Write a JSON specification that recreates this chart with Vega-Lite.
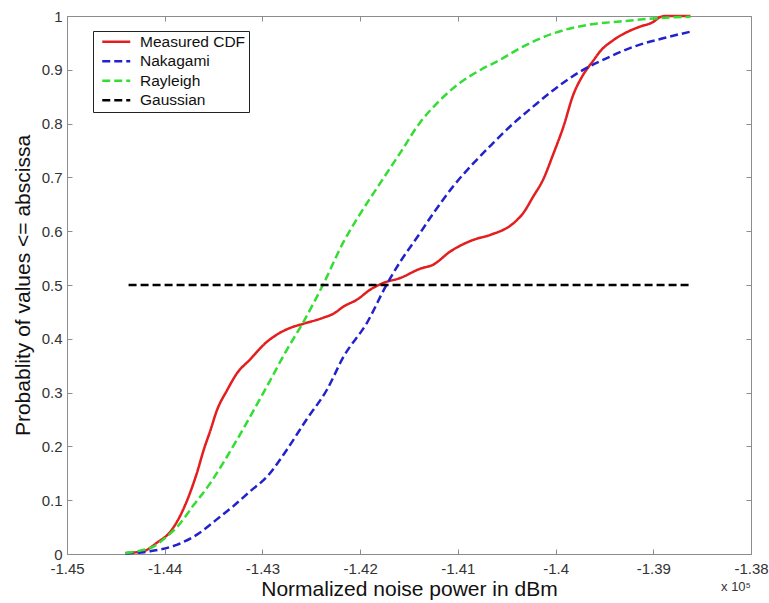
{
  "$schema": "https://vega.github.io/schema/vega-lite/v6.json",
  "width": 684,
  "height": 538,
  "autosize": "none",
  "padding": {"left": 67, "top": 16, "right": 18, "bottom": 49},
  "background": "white",
  "config": {
    "font": "Liberation Sans",
    "view": {"stroke": "#8c8c8c", "strokeWidth": 1},
    "axis": {
      "domain": false,
      "grid": false,
      "tickColor": "#8c8c8c",
      "tickSize": -5,
      "tickWidth": 1,
      "labelColor": "#333333",
      "labelFont": "Liberation Sans",
      "labelFontSize": 15,
      "titleFont": "Liberation Sans",
      "titleFontSize": 21,
      "titleFontWeight": "normal",
      "titleColor": "#111111"
    },
    "legend": {
      "orient": "none",
      "legendX": 26,
      "legendY": 15,
      "fillColor": "white",
      "strokeColor": "#222222",
      "padding": 3,
      "labelFont": "Liberation Sans",
      "labelFontSize": 15.5,
      "labelColor": "#111111",
      "symbolType": "M-2.333,0H2.333",
      "symbolSize": 144,
      "symbolStrokeWidth": 2.5,
      "symbolOffset": 12.5,
      "labelOffset": 16,
      "rowPadding": 2.5
    }
  },
  "title": {
    "text": "x 10⁵",
    "orient": "bottom",
    "anchor": "end",
    "frame": "group",
    "fontSize": 13,
    "fontWeight": "normal",
    "color": "#333333",
    "offset": -18
  },
  "data": {
    "values": [
      {"s": "Measured CDF", "x": -1.4440, "y": 0.002},
      {"s": "Measured CDF", "x": -1.4422, "y": 0.005},
      {"s": "Measured CDF", "x": -1.4408, "y": 0.021},
      {"s": "Measured CDF", "x": -1.4394, "y": 0.042},
      {"s": "Measured CDF", "x": -1.4381, "y": 0.083},
      {"s": "Measured CDF", "x": -1.4374, "y": 0.114},
      {"s": "Measured CDF", "x": -1.4367, "y": 0.151},
      {"s": "Measured CDF", "x": -1.4360, "y": 0.194},
      {"s": "Measured CDF", "x": -1.4353, "y": 0.231},
      {"s": "Measured CDF", "x": -1.4347, "y": 0.265},
      {"s": "Measured CDF", "x": -1.4336, "y": 0.305},
      {"s": "Measured CDF", "x": -1.4326, "y": 0.336},
      {"s": "Measured CDF", "x": -1.4313, "y": 0.361},
      {"s": "Measured CDF", "x": -1.4295, "y": 0.395},
      {"s": "Measured CDF", "x": -1.4285, "y": 0.408},
      {"s": "Measured CDF", "x": -1.4272, "y": 0.420},
      {"s": "Measured CDF", "x": -1.4258, "y": 0.428},
      {"s": "Measured CDF", "x": -1.4238, "y": 0.439},
      {"s": "Measured CDF", "x": -1.4227, "y": 0.447},
      {"s": "Measured CDF", "x": -1.4217, "y": 0.460},
      {"s": "Measured CDF", "x": -1.4203, "y": 0.473},
      {"s": "Measured CDF", "x": -1.4190, "y": 0.491},
      {"s": "Measured CDF", "x": -1.4176, "y": 0.504},
      {"s": "Measured CDF", "x": -1.4159, "y": 0.513},
      {"s": "Measured CDF", "x": -1.4139, "y": 0.530},
      {"s": "Measured CDF", "x": -1.4125, "y": 0.538},
      {"s": "Measured CDF", "x": -1.4108, "y": 0.562},
      {"s": "Measured CDF", "x": -1.4084, "y": 0.584},
      {"s": "Measured CDF", "x": -1.4067, "y": 0.593},
      {"s": "Measured CDF", "x": -1.4043, "y": 0.615},
      {"s": "Measured CDF", "x": -1.4033, "y": 0.634},
      {"s": "Measured CDF", "x": -1.4023, "y": 0.664},
      {"s": "Measured CDF", "x": -1.4013, "y": 0.695},
      {"s": "Measured CDF", "x": -1.4002, "y": 0.745},
      {"s": "Measured CDF", "x": -1.3992, "y": 0.794},
      {"s": "Measured CDF", "x": -1.3982, "y": 0.853},
      {"s": "Measured CDF", "x": -1.3972, "y": 0.890},
      {"s": "Measured CDF", "x": -1.3961, "y": 0.918},
      {"s": "Measured CDF", "x": -1.3955, "y": 0.933},
      {"s": "Measured CDF", "x": -1.3941, "y": 0.955},
      {"s": "Measured CDF", "x": -1.3927, "y": 0.970},
      {"s": "Measured CDF", "x": -1.3914, "y": 0.980},
      {"s": "Measured CDF", "x": -1.3900, "y": 0.989},
      {"s": "Measured CDF", "x": -1.3893, "y": 0.998},
      {"s": "Measured CDF", "x": -1.3888, "y": 1.0},
      {"s": "Measured CDF", "x": -1.3862, "y": 1.0},
      {"s": "Nakagami", "x": -1.4440, "y": 0.0011},
      {"s": "Nakagami", "x": -1.4415, "y": 0.0050},
      {"s": "Nakagami", "x": -1.4387, "y": 0.0175},
      {"s": "Nakagami", "x": -1.4367, "y": 0.0360},
      {"s": "Nakagami", "x": -1.4347, "y": 0.0639},
      {"s": "Nakagami", "x": -1.4330, "y": 0.0886},
      {"s": "Nakagami", "x": -1.4313, "y": 0.1159},
      {"s": "Nakagami", "x": -1.4295, "y": 0.1443},
      {"s": "Nakagami", "x": -1.4275, "y": 0.1939},
      {"s": "Nakagami", "x": -1.4255, "y": 0.2496},
      {"s": "Nakagami", "x": -1.4234, "y": 0.3053},
      {"s": "Nakagami", "x": -1.4217, "y": 0.3666},
      {"s": "Nakagami", "x": -1.4193, "y": 0.4298},
      {"s": "Nakagami", "x": -1.4173, "y": 0.5004},
      {"s": "Nakagami", "x": -1.4159, "y": 0.5431},
      {"s": "Nakagami", "x": -1.4142, "y": 0.5877},
      {"s": "Nakagami", "x": -1.4125, "y": 0.6335},
      {"s": "Nakagami", "x": -1.4105, "y": 0.6829},
      {"s": "Nakagami", "x": -1.4084, "y": 0.7264},
      {"s": "Nakagami", "x": -1.4064, "y": 0.7636},
      {"s": "Nakagami", "x": -1.4043, "y": 0.8007},
      {"s": "Nakagami", "x": -1.4023, "y": 0.8315},
      {"s": "Nakagami", "x": -1.4002, "y": 0.8626},
      {"s": "Nakagami", "x": -1.3975, "y": 0.8965},
      {"s": "Nakagami", "x": -1.3948, "y": 0.9214},
      {"s": "Nakagami", "x": -1.3920, "y": 0.9430},
      {"s": "Nakagami", "x": -1.3890, "y": 0.9586},
      {"s": "Nakagami", "x": -1.3862, "y": 0.9708},
      {"s": "Rayleigh", "x": -1.4440, "y": 0.0017},
      {"s": "Rayleigh", "x": -1.4425, "y": 0.0063},
      {"s": "Rayleigh", "x": -1.4411, "y": 0.0143},
      {"s": "Rayleigh", "x": -1.4398, "y": 0.0323},
      {"s": "Rayleigh", "x": -1.4387, "y": 0.0509},
      {"s": "Rayleigh", "x": -1.4370, "y": 0.0918},
      {"s": "Rayleigh", "x": -1.4353, "y": 0.1326},
      {"s": "Rayleigh", "x": -1.4340, "y": 0.1698},
      {"s": "Rayleigh", "x": -1.4326, "y": 0.2125},
      {"s": "Rayleigh", "x": -1.4312, "y": 0.2571},
      {"s": "Rayleigh", "x": -1.4295, "y": 0.3128},
      {"s": "Rayleigh", "x": -1.4275, "y": 0.3796},
      {"s": "Rayleigh", "x": -1.4258, "y": 0.4316},
      {"s": "Rayleigh", "x": -1.4238, "y": 0.5004},
      {"s": "Rayleigh", "x": -1.4217, "y": 0.5802},
      {"s": "Rayleigh", "x": -1.4200, "y": 0.6322},
      {"s": "Rayleigh", "x": -1.4180, "y": 0.6880},
      {"s": "Rayleigh", "x": -1.4159, "y": 0.7456},
      {"s": "Rayleigh", "x": -1.4139, "y": 0.8013},
      {"s": "Rayleigh", "x": -1.4118, "y": 0.8440},
      {"s": "Rayleigh", "x": -1.4098, "y": 0.8756},
      {"s": "Rayleigh", "x": -1.4077, "y": 0.8997},
      {"s": "Rayleigh", "x": -1.4057, "y": 0.9183},
      {"s": "Rayleigh", "x": -1.4036, "y": 0.9406},
      {"s": "Rayleigh", "x": -1.4002, "y": 0.9679},
      {"s": "Rayleigh", "x": -1.3968, "y": 0.9833},
      {"s": "Rayleigh", "x": -1.3934, "y": 0.9898},
      {"s": "Rayleigh", "x": -1.3900, "y": 0.9954},
      {"s": "Rayleigh", "x": -1.3862, "y": 0.9987},
      {"s": "Gaussian", "x": -1.4437, "y": 0.5},
      {"s": "Gaussian", "x": -1.3862, "y": 0.5}
    ]
  },
  "layer": [
    {
      "mark": {"type": "line", "strokeWidth": 2.5, "clip": false, "interpolate": "monotone"},
      "encoding": {
        "x": {
          "field": "x",
          "type": "quantitative",
          "scale": {"domain": [-1.45, -1.38], "nice": false, "zero": false},
          "axis": {
            "orient": "bottom",
            "values": [-1.45, -1.44, -1.43, -1.42, -1.41, -1.4, -1.39, -1.38],
            "labelExpr": "replace(format(datum.value, '.2~f'), '\u2212', '-')",
            "labelFlush": false,
            "labelOverlap": false,
            "labelPadding": 12,
            "title": "Normalized noise power in dBm",
            "titlePadding": 2
          }
        },
        "y": {
          "field": "y",
          "type": "quantitative",
          "scale": {"domain": [0, 1], "nice": false, "zero": false},
          "axis": {
            "orient": "left",
            "values": [0, 0.1, 0.2, 0.3, 0.4, 0.5, 0.6, 0.7, 0.8, 0.9, 1],
            "format": ".1~f",
            "labelPadding": 10,
            "labelOverlap": false,
            "title": "Probablity of values <= abscissa",
            "titlePadding": 8
          }
        },
        "color": {
          "field": "s",
          "type": "nominal",
          "scale": {
            "domain": ["Measured CDF", "Nakagami", "Rayleigh", "Gaussian"],
            "range": ["#e41e1e", "#2222cc", "#33dd33", "#000000"]
          },
          "legend": {"title": null}
        },
        "strokeDash": {
          "field": "s",
          "type": "nominal",
          "scale": {
            "domain": ["Measured CDF", "Nakagami", "Rayleigh", "Gaussian"],
            "range": [[1, 0], [8, 4], [8, 4], [8, 4]]
          },
          "legend": {"title": null}
        }
      }
    },
    {
      "mark": {"type": "line", "opacity": 0},
      "encoding": {
        "x": {
          "field": "x",
          "type": "quantitative",
          "axis": {
            "orient": "top",
            "values": [-1.45, -1.44, -1.43, -1.42, -1.41, -1.4, -1.39, -1.38],
            "labels": false,
            "title": null
          }
        },
        "y": {
          "field": "y",
          "type": "quantitative",
          "axis": {
            "orient": "right",
            "values": [0, 0.1, 0.2, 0.3, 0.4, 0.5, 0.6, 0.7, 0.8, 0.9, 1],
            "labels": false,
            "title": null
          }
        },
        "detail": {"field": "s", "type": "nominal"}
      }
    }
  ],
  "resolve": {"axis": {"x": "independent", "y": "independent"}}
}
